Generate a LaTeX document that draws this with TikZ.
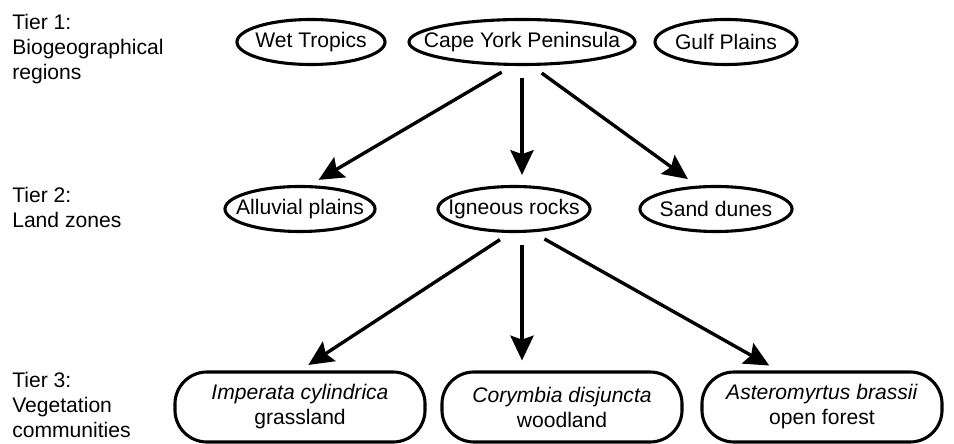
\documentclass[tikz,border=0pt]{standalone}
\usepackage{fontspec}
\setmainfont{Liberation Sans}
\usetikzlibrary{shapes.geometric,arrows.meta}

\begin{document}
\begin{tikzpicture}[x=0.025cm,y=-0.025cm]
        % Define the styles
        \tikzset{every node/.style={font=\fontsize{15}{17.8}\selectfont},
            region/.style={draw,ellipse,line width=2.2pt,inner xsep=-0.47cm,inner ysep=0pt,minimum height=1.125cm},
            community/.style={draw,rounded corners=0.8cm,line width=2.2pt,align=center,inner sep=0pt,minimum height=1.75cm},
            tier/.style={anchor=north west,align=left,inner sep=0pt},
            arr/.style={line width=2.4pt,-{Stealth[length=0.62cm,width=0.58cm,inset=0.1cm]},shorten <=0.3cm,shorten >=0.25cm}}

        \useasboundingbox (0,0) rectangle (954,444);

        % Tier labels
        \node[tier] (t1) at (12,14) {Tier 1:\\Biogeographical\\regions};
        \node[tier] (t2) at (12,187) {Tier 2:\\Land zones};
        \node[tier] (t3) at (12,372) {Tier 3:\\Vegetation\\communities};

        % Tier 1
        \node[region,minimum width=3.7cm] (wet) at (311,42) {Wet Tropics};
        \node[region,minimum width=5.65cm] (cape) at (522,42) {Cape York Peninsula};
        \node[region,minimum width=3.55cm] (gulf) at (726,42) {Gulf Plains};

        % Tier 2
        \node[region,minimum width=3.75cm] (alluvial) at (300,209) {Alluvial plains};
        \node[region,minimum width=3.8cm] (igneous) at (514,209) {Igneous rocks};
        \node[region,minimum width=3.8cm] (dunes) at (716,209) {Sand dunes};

        % Tier 3
        \node[community,minimum width=6.25cm] (imperata) at (300,407) {\textit{Imperata cylindrica}\\grassland};
        \node[community,minimum width=6cm] (corymbia) at (562,407) {\textit{Corymbia disjuncta}\\woodland};
        \node[community,minimum width=6cm] (astero) at (822,407) {\textit{Asteromyrtus brassii}\\open forest};

        % Edges
        \draw[arr] ([xshift=-0.25cm]cape.south) -- ([xshift=0.25cm]alluvial.north);
        \draw[arr] (cape.south) -- (cape.south |- igneous.north);
        \draw[arr] ([xshift=0.25cm]cape.south) -- ([xshift=-0.5cm]dunes.north);
        \draw[arr] ([xshift=-0.1cm]igneous.south) -- (imperata.north);
        \draw[arr] ([xshift=0.2cm]igneous.south) -- ([xshift=0.2cm]igneous.south |- corymbia.north);
        \draw[arr] ([xshift=0.5cm]igneous.south) -- ([xshift=-1.1cm]astero.north);
    \end{tikzpicture}
\end{document}
